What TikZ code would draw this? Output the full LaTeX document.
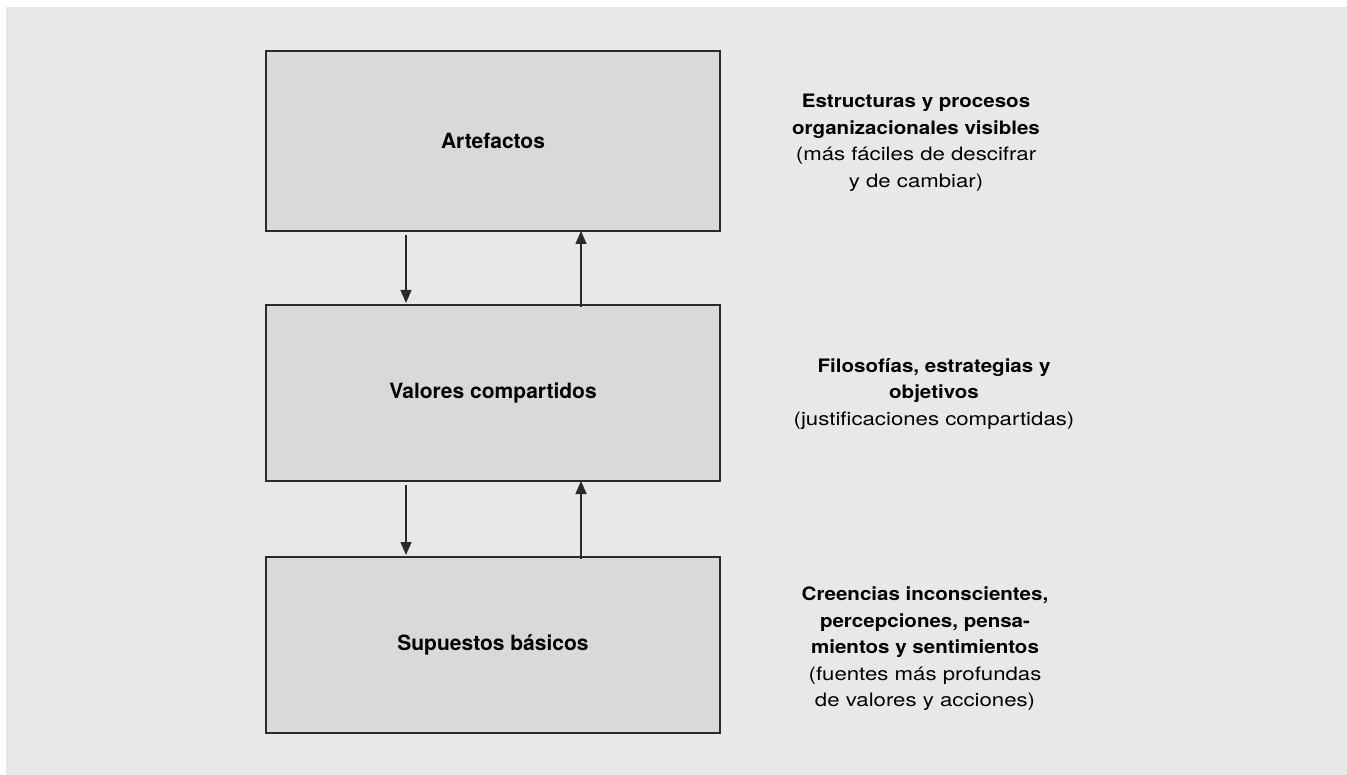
\documentclass[tikz,border=0pt]{standalone}
\usepackage{fontspec}
\setmainfont{TeX Gyre Heros}
\newfontfamily\sidereg[FakeStretch=1.2]{TeX Gyre Heros}
\newfontfamily\sidebf[FakeStretch=1.11]{TeX Gyre Heros}
\usetikzlibrary{arrows.meta}
\definecolor{panelgray}{HTML}{E8E8E8}
\definecolor{boxgray}{HTML}{D9D9D9}
\definecolor{edgegray}{HTML}{2A2A2A}
\newcommand{\hd}[1]{{\sidebf\bfseries #1}}
\newcommand{\rg}[1]{{\sidereg #1}}
\tikzset{
  layerbox/.style={draw=edgegray, fill=boxgray, line width=2pt, minimum width=454pt, minimum height=180pt, inner sep=0pt, font=\fontsize{21}{24}\selectfont\bfseries},
  sidetext/.style={align=center, inner sep=0pt, font=\fontsize{18.5}{26.5}\selectfont, text=black},
  arr/.style={-{Triangle[length=13pt,width=11pt]}, line width=1.4pt, draw=edgegray},
}
\begin{document}
\begin{tikzpicture}[x=1pt,y=-1pt]
\useasboundingbox (0,0) rectangle (1347,775);
\fill[white] (0,0) rectangle (1347,775);
\fill[panelgray] (6,7) rectangle (1347,775);

\node[layerbox, minimum height=180pt] (art) at (493,141) {Artefactos};
\node[layerbox, minimum height=176pt] (val) at (493,393) {Valores compartidos};
\node[layerbox, minimum height=176pt] (sup) at (493,645) {Supuestos básicos};

\draw[arr] ([xshift=141pt,yshift=-3pt]art.south west) -- ([xshift=141pt,yshift=1pt]val.north west);
\draw[arr] ([xshift=316pt,yshift=-3pt]val.north west) -- ([xshift=316pt,yshift=1pt]art.south west);
\draw[arr] ([xshift=141pt,yshift=-3pt]val.south west) -- ([xshift=141pt,yshift=1pt]sup.north west);
\draw[arr] ([xshift=316pt,yshift=-3pt]sup.north west) -- ([xshift=316pt,yshift=1pt]val.south west);

\node[sidetext] (t1) at (916,143) {\hd{Estructuras y procesos}\\\hd{organizacionales visibles}\\\rg{(más fáciles de descifrar}\\\rg{y de cambiar)}};
\node[sidetext] (t2) at (934,394) {\hd{Filosofías, estrategias y}\\\hd{objetivos}\\\rg{(justificaciones compartidas)}};
\node[sidetext] (t3) at (925,649) {\hd{Creencias inconscientes,}\\\hd{percepciones, pensa-}\\\hd{mientos y sentimientos}\\\rg{(fuentes más profundas}\\\rg{de valores y acciones)}};
\end{tikzpicture}
\end{document}
